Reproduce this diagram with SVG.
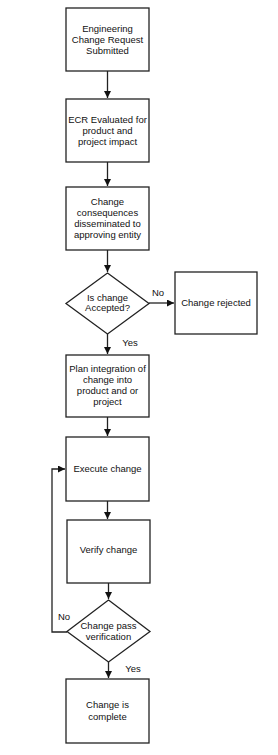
<svg xmlns="http://www.w3.org/2000/svg" width="278" height="755" viewBox="0 0 278 755">
<style>
.n{fill:#fff;stroke:#222;stroke-width:1.3}
.t{font-family:"Liberation Sans",Arial,sans-serif;font-size:9.5px;fill:#111;text-anchor:middle}
.c{fill:none;stroke:#222;stroke-width:1.3}
</style>
<defs>
<marker id="a" viewBox="0 0 10 10" refX="10" refY="5" markerWidth="7" markerHeight="7" markerUnits="userSpaceOnUse" orient="auto">
<path d="M0,0 L10,5 L0,10 z" fill="#111"/>
</marker>
</defs>
<rect width="278" height="755" fill="#fff"/>
<g id="connectors">
<path class="c" d="M107.5,71 V98" marker-end="url(#a)"/>
<path class="c" d="M107.5,162 V186" marker-end="url(#a)"/>
<path class="c" d="M107.5,250 V272" marker-end="url(#a)"/>
<path class="c" d="M149,303 H174" marker-end="url(#a)"/>
<path class="c" d="M107.5,334 V354" marker-end="url(#a)"/>
<path class="c" d="M107.5,417 V436" marker-end="url(#a)"/>
<path class="c" d="M107.5,501 V519" marker-end="url(#a)"/>
<path class="c" d="M108.5,583 V599" marker-end="url(#a)"/>
<path class="c" d="M108.5,662 V678" marker-end="url(#a)"/>
<path class="c" d="M67,632 H52 V469 H65" marker-end="url(#a)"/>
<text class="t" x="158" y="296">No</text>
<text class="t" x="130" y="346">Yes</text>
<text class="t" x="64" y="620">No</text>
<text class="t" x="133" y="672">Yes</text>
</g>
<g id="n1"><rect class="n" x="66" y="8" width="83" height="63"/>
<text class="t" x="107.5" y="32">Engineering</text><text class="t" x="107.5" y="43">Change Request</text><text class="t" x="107.5" y="54">Submitted</text></g>
<g id="n2"><rect class="n" x="66" y="99" width="83" height="63"/>
<text class="t" x="107.5" y="123">ECR Evaluated for</text><text class="t" x="107.5" y="134">product and</text><text class="t" x="107.5" y="145">project impact</text></g>
<g id="n3"><rect class="n" x="66" y="187" width="83" height="63"/>
<text class="t" x="107.5" y="205">Change</text><text class="t" x="107.5" y="216">consequences</text><text class="t" x="107.5" y="227">disseminated to</text><text class="t" x="107.5" y="238">approving entity</text></g>
<g id="d1"><polygon class="n" points="107.5,273 149,303.5 107.5,334 66,303.5"/>
<text class="t" x="107.5" y="301">Is change</text><text class="t" x="107.5" y="311">Accepted?</text></g>
<g id="n4"><rect class="n" x="175" y="272" width="82" height="62"/>
<text class="t" x="216" y="306">Change rejected</text></g>
<g id="n5"><rect class="n" x="66" y="355" width="83" height="62"/>
<text class="t" x="107.5" y="372">Plan integration of</text><text class="t" x="107.5" y="383">change into</text><text class="t" x="107.5" y="394">product and or</text><text class="t" x="107.5" y="405">project</text></g>
<g id="n6"><rect class="n" x="66" y="437" width="83" height="64"/>
<text class="t" x="107.5" y="472">Execute change</text></g>
<g id="n7"><rect class="n" x="67" y="520" width="83" height="63"/>
<text class="t" x="108.5" y="553">Verify change</text></g>
<g id="d2"><polygon class="n" points="108.5,600 150,631.5 108.5,662 67,631.5"/>
<text class="t" x="108.5" y="629">Change pass</text><text class="t" x="108.5" y="640">verification</text></g>
<g id="n8"><rect class="n" x="66" y="679" width="83" height="64"/>
<text class="t" x="107.5" y="708">Change is</text><text class="t" x="107.5" y="720">complete</text></g>
</svg>
